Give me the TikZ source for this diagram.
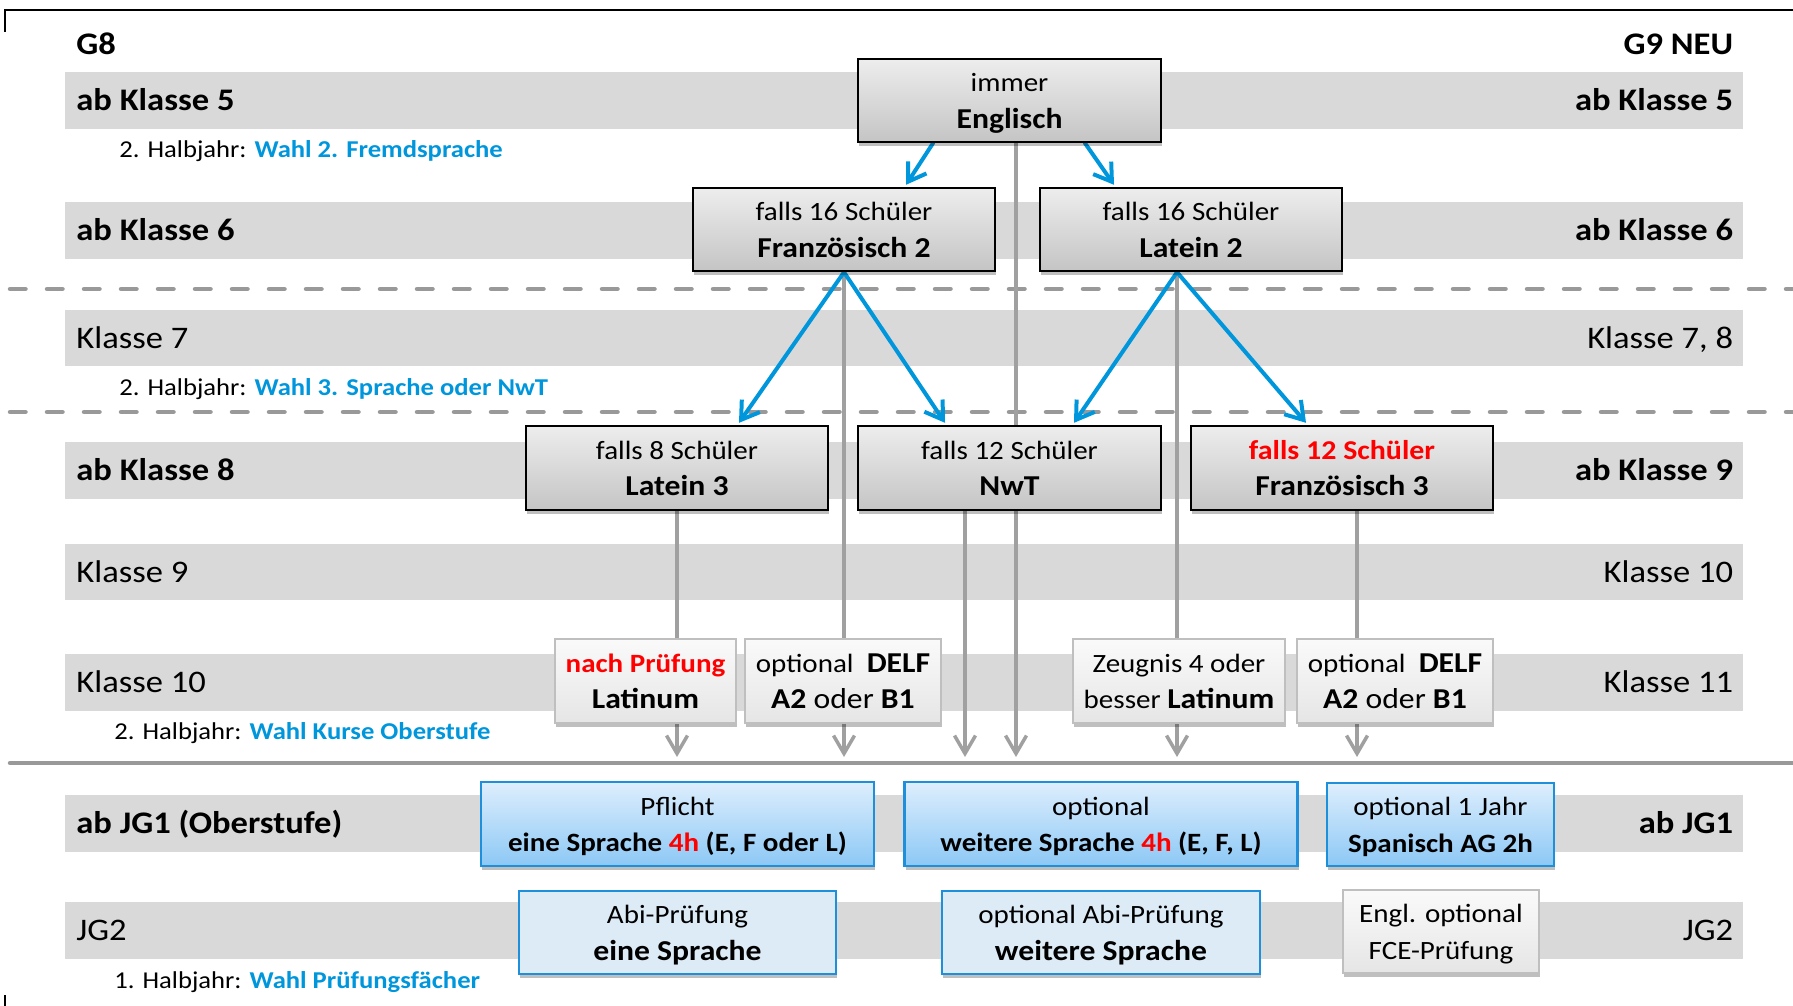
\documentclass[tikz,border=0pt]{standalone}
\usepackage{fontspec}
\setmainfont{Carlito}[FakeStretch=1.1]
\usetikzlibrary{arrows.meta,shadows,calc}
\definecolor{band}{HTML}{D9D9D9}
\definecolor{lblue}{HTML}{0096DC}
\definecolor{lgray}{HTML}{A0A0A0}
\definecolor{dgray}{HTML}{999999}
\definecolor{myred}{HTML}{FF0000}
\definecolor{bborder}{HTML}{1E8FDA}
\pgfdeclarelayer{bandlayer}
\pgfdeclarelayer{linelayer}
\pgfsetlayers{bandlayer,linelayer,main}
\newcommand\lblfont{\fontsize{15.7}{18}\selectfont}
\newcommand\boxfont{\fontsize{13.2}{16}\selectfont}
\newcommand\lgfont{\fontsize{14.4}{17}\selectfont}
\newcommand\subfont{\fontsize{12.1}{15}\selectfont}
\newcommand\twolines[3]{%
  \node[btext] (#1-t1) at ($(#1.center)+(0,-9)$) {#2};
  \node[btext] (#1-t2) at ($(#1.center)+(0,27.6)$) {#3};}
\tikzset{
  sz/.style 2 args={minimum width=#1*0.5pt, minimum height=#2*0.5pt, inner sep=0pt},
  lbl/.style={anchor=base west, inner sep=0pt, font=\lblfont},
  rbl/.style={anchor=base east, inner sep=0pt, font=\lblfont},
  sublbl/.style={anchor=base west, inner sep=0pt, font=\subfont},
  btext/.style={anchor=base, inner sep=0pt, font=\boxfont},
  boxshadow/.style={drop shadow={shadow xshift=0.6pt, shadow yshift=-1.8pt, opacity=0.25, fill=black}},
  darkbox/.style={draw=black, line width=1.2pt, top color=white!93!black, bottom color=white!77!black, boxshadow},
  lightbox/.style={draw=white!75!black, line width=1pt, top color=white!98!black, bottom color=white!90!black, boxshadow},
  bluebox/.style={draw=bborder, line width=1.2pt, top color={rgb,255:red,222;green,238;blue,253}, bottom color={rgb,255:red,140;green,200;blue,245}, boxshadow},
  abibox/.style={draw=bborder, line width=1.2pt, fill={rgb,255:red,221;green,235;blue,247}, boxshadow},
  gline/.style={draw=lgray, line width=1.75pt},
  garrow/.style={gline, -{Straight Barb[length=9pt,width=10.5pt]}},
  barrow/.style={draw=lblue, line width=2pt, line cap=round, -{Straight Barb[length=8.5pt,width=11pt]}},
  sepdash/.style={draw=dgray, line width=2.25pt, line cap=round, dash pattern=on 7.75pt off 10.75pt},
  sepsolid/.style={draw=dgray, line width=2.25pt, line cap=round},
  frame/.style={draw=black, line width=1.2pt}
}
\begin{document}
\begin{tikzpicture}[x=0.5pt,y=-0.5pt]
\useasboundingbox (0,0) rectangle (1793,1006);
% frame
\draw[frame] (5,32) -- (5,10) -- (1793,10);
\draw[frame] (5,995) -- (5,1006);
% bands and separators
\begin{pgfonlayer}{bandlayer}
\fill[band] (65,72) rectangle (1743,129);
\fill[band] (65,202) rectangle (1743,259);
\fill[band] (65,310) rectangle (1743,366);
\fill[band] (65,442) rectangle (1743,499);
\fill[band] (65,544) rectangle (1743,600);
\fill[band] (65,654) rectangle (1743,711);
\fill[band] (65,795) rectangle (1743,852);
\fill[band] (65,902) rectangle (1743,959);
\draw[sepdash] (10,289) -- (1793,289);
\draw[sepdash] (10,412) -- (1793,412);
\draw[sepsolid] (10,763) -- (1793,763);
\end{pgfonlayer}
% left labels
\node[lbl] (g8) at (76,55) {\textbf{G8}};
\node[lbl] (lk5) at (76,110.5) {\textbf{ab Klasse 5}};
\node[lbl] (lk6) at (76,240.5) {\textbf{ab Klasse 6}};
\node[lbl] (lk7) at (76,348) {Klasse 7};
\node[lbl] (lk8) at (76,480.5) {\textbf{ab Klasse 8}};
\node[lbl] (lk9) at (76,582) {Klasse 9};
\node[lbl] (lk10) at (76,692.5) {Klasse 10};
\node[lbl] (ljg1) at (76,833.5) {\textbf{ab JG1 (Oberstufe)}};
\node[lbl] (ljg2) at (76,940.5) {JG2};
% right labels
\node[rbl] (g9) at (1733.5,55) {\textbf{G9 NEU}};
\node[rbl] (rk5) at (1733.5,110.5) {\textbf{ab Klasse 5}};
\node[rbl] (rk6) at (1733.5,240.5) {\textbf{ab Klasse 6}};
\node[rbl] (rk78) at (1733.5,348) {Klasse 7, 8};
\node[rbl] (rk9) at (1733.5,480.5) {\textbf{ab Klasse 9}};
\node[rbl] (rk10) at (1733.5,582) {Klasse 10};
\node[rbl] (rk11) at (1733.5,692.5) {Klasse 11};
\node[rbl] (rjg1) at (1733.5,833.5) {\textbf{ab JG1}};
\node[rbl] (rjg2) at (1733.5,940.5) {JG2};
% sub labels
\node[sublbl] (s1) at (119,157) {2. Halbjahr: \textcolor{lblue}{\textbf{Wahl 2. Fremdsprache}}};
\node[sublbl] (s2) at (119,395) {2. Halbjahr: \textcolor{lblue}{\textbf{Wahl 3. Sprache oder NwT}}};
\node[sublbl] (s3) at (114,739) {2. Halbjahr: \textcolor{lblue}{\textbf{Wahl Kurse Oberstufe}}};
\node[sublbl] (s4) at (114,988) {1. Halbjahr: \textcolor{lblue}{\textbf{Wahl Prüfungsfächer}}};
% boxes
\node[darkbox, sz={303}{83}] (eng) at (1009.5,100.5) {};
\node[darkbox, sz={302}{83}] (f2) at (844,229.5) {};
\node[darkbox, sz={302}{83}] (l2) at (1191,229.5) {};
\node[darkbox, sz={302}{84}] (l3) at (677,468) {};
\node[darkbox, sz={303}{84}] (nwt) at (1009.5,468) {};
\node[darkbox, sz={302}{84}] (f3) at (1342,468) {};
\node[lightbox, sz={181}{84}] (np) at (645.5,681) {};
\node[lightbox, sz={196}{84}] (d1) at (843,681) {};
\node[lightbox, sz={212}{84}] (zg) at (1179,681) {};
\node[lightbox, sz={196}{84}] (d2) at (1395,681) {};
\node[bluebox, sz={393}{84}] (pf) at (677.5,824) {};
\node[bluebox, sz={393}{84}] (ws) at (1101,824) {};
\node[bluebox, sz={227}{83}] (sp) at (1440.5,824.5) {};
\node[abibox, sz={317}{83}] (abi) at (677.5,932.5) {};
\node[abibox, sz={318}{83}] (oabi) at (1101,932.5) {};
\node[lightbox, sz={196}{83}] (fce) at (1441,931.5) {};
% box texts
\twolines{eng}{immer}{\lgfont\textbf{Englisch}}
\twolines{f2}{falls 16 Schüler}{\lgfont\textbf{Französisch 2}}
\twolines{l2}{falls 16 Schüler}{\lgfont\textbf{Latein 2}}
\twolines{l3}{falls 8 Schüler}{\lgfont\textbf{Latein 3}}
\twolines{nwt}{falls 12 Schüler}{\lgfont\textbf{NwT}}
\twolines{f3}{\fontsize{13.6}{16}\selectfont\textcolor{myred}{\textbf{falls 12 Schüler}}}{\lgfont\textbf{Französisch 3}}
\twolines{np}{\textcolor{myred}{\textbf{nach Prüfung}}}{\lgfont\textbf{Latinum}}
\twolines{d1}{optional\ \ {\lgfont\textbf{DELF}}}{\lgfont\textbf{A2} oder \textbf{B1}}
\twolines{zg}{Zeugnis 4 oder}{besser {\lgfont\textbf{Latinum}}}
\twolines{d2}{optional\ \ {\lgfont\textbf{DELF}}}{\lgfont\textbf{A2} oder \textbf{B1}}
\twolines{pf}{Pflicht}{\textbf{eine Sprache \textcolor{myred}{4h} (E, F oder L)}}
\twolines{ws}{optional}{\textbf{weitere Sprache \textcolor{myred}{4h} (E, F, L)}}
\twolines{sp}{optional 1 Jahr}{\textbf{Spanisch AG 2h}}
\twolines{abi}{Abi-Prüfung}{\lgfont\textbf{eine Sprache}}
\twolines{oabi}{optional Abi-Prüfung}{\lgfont\textbf{weitere Sprache}}
\twolines{fce}{Engl. optional}{FCE-Prüfung}
% connectors
\coordinate (ge) at (1016,757);
\coordinate (gf) at (844,757);
\coordinate (gl) at (677,757);
\coordinate (gn) at (965,757);
\coordinate (gz) at (1177,757);
\coordinate (gd) at (1357,757);
\coordinate (l2b) at ($(l2.south)+(-14,0)$);
\coordinate (f3b) at ($(f3.south)+(15,0)$);
\coordinate (engb) at ($(eng.south)+(6.5,0)$);
\coordinate (nwtb) at ($(nwt.south)+(-44.5,0)$);
\begin{pgfonlayer}{linelayer}
\draw[garrow] (engb) -- (ge);
\draw[gline] (f2.south) -- (f2.south |- d1.north);
\draw[garrow] (f2.south |- d1.south) -- (gf);
\draw[gline] (l3.south) -- (l3.south |- np.north);
\draw[garrow] (l3.south |- np.south) -- (gl);
\draw[garrow] (nwtb) -- (gn);
\draw[gline] (l2b) -- (l2b |- zg.north);
\draw[garrow] (l2b |- zg.south) -- (gz);
\draw[gline] (f3b) -- (f3b |- d2.north);
\draw[garrow] (f3b |- d2.south) -- (gd);
\draw[barrow] ($(eng.south)+(-76.5,0)$) -- ($(f2.north)+(62,-2)$);
\draw[barrow] ($(eng.south)+(75.5,0)$) -- ($(l2.north)+(-77,-2)$);
\draw[barrow] (f2.south) -- ($(l3.north)+(62,-2)$);
\draw[barrow] (f2.south) -- ($(nwt.north)+(-64.5,-2)$);
\draw[barrow] (l2b) -- ($(nwt.north)+(64.5,-2)$);
\draw[barrow] (l2b) -- ($(f3.north)+(-36,-2)$);
\end{pgfonlayer}
\end{tikzpicture}
\end{document}
